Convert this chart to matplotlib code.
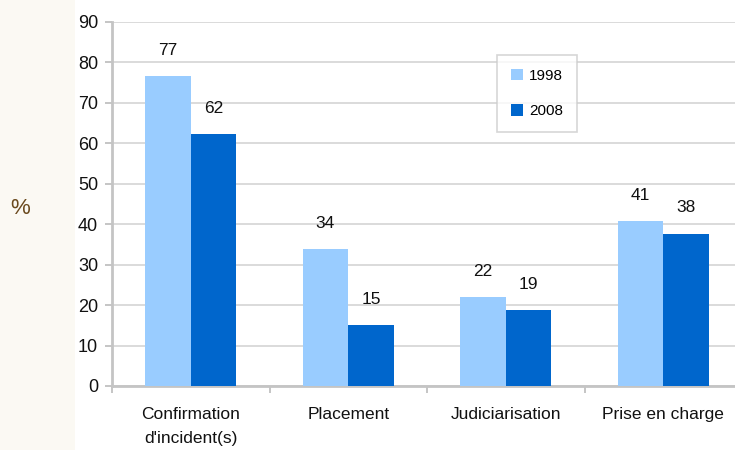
import matplotlib
matplotlib.use("Agg")
import matplotlib.pyplot as plt
import numpy as np
from matplotlib.patches import Rectangle

categories = ["Confirmation\nd'incident(s)", "Placement", "Judiciarisation", "Prise en charge"]
series_names = ["1998", "2008"]
values_1998 = [76.7, 33.8, 21.9, 40.7]
values_2008 = [62.4, 15.0, 18.9, 37.7]
labels_1998 = ["77", "34", "22", "41"]
labels_2008 = ["62", "15", "19", "38"]
yticks = [0, 10, 20, 30, 40, 50, 60, 70, 80, 90]

plt.rcParams['font.family'] = ['Liberation Sans', 'DejaVu Sans']

W, H = 735, 450
fig = plt.figure(figsize=(W / 100, H / 100), dpi=100)
fig.patch.set_facecolor('white')
# beige left strip
fig.patches.append(Rectangle((0, 0), 75 / W, 1, transform=fig.transFigure,
                             facecolor='#FBF9F3', edgecolor='none', zorder=0))

left, right = 112, 742
top, bottom = 22, 386
ax = fig.add_axes([left / W, 1 - bottom / H, (right - left) / W, (bottom - top) / H])
ax.set_facecolor('white')

x = np.arange(len(categories))
bw = 0.29
c1, c2 = '#99CCFF', '#0066CC'
b1 = ax.bar(x - bw / 2, values_1998, bw, color=c1, zorder=3, label=series_names[0])
b2 = ax.bar(x + bw / 2, values_2008, bw, color=c2, zorder=3, label=series_names[1])

for xi, v, lab in zip(x - bw / 2, values_1998, labels_1998):
    ax.annotate(lab, (xi, v), xytext=(0, 13), textcoords='offset points',
                ha='center', va='bottom', fontsize=12.5, color='#111111')
for xi, v, lab in zip(x + bw / 2, values_2008, labels_2008):
    ax.annotate(lab, (xi, v), xytext=(0, 13), textcoords='offset points',
                ha='center', va='bottom', fontsize=12.5, color='#111111')

ax.set_xlim(-0.5, len(categories) - 0.5)
ax.set_ylim(0, 90)
ax.set_yticks(yticks)
ax.set_yticklabels([str(t) for t in yticks], fontsize=13, color='#111111')
ax.yaxis.grid(True, color='#D4D4D4', linewidth=1.2, zorder=0)
ax.set_axisbelow(True)

ax.set_xticks(x)
ax.set_xticklabels(categories, fontsize=12.5, color='#111111', linespacing=1.75)
ax.tick_params(axis='x', length=0, pad=15)
ax.set_xticks(np.arange(len(categories) + 1) - 0.5, minor=True)
ax.tick_params(axis='x', which='minor', length=5, color='#BBBBBB', width=1.2)
ax.tick_params(axis='y', length=5, color='#BBBBBB', width=1.2, pad=5)

for s in ['top', 'right']:
    ax.spines[s].set_visible(False)
ax.spines['left'].set_color('#C4C4C4')
ax.spines['left'].set_linewidth(2)
ax.spines['bottom'].set_color('#C4C4C4')
ax.spines['bottom'].set_linewidth(2)

leg = fig.legend(handles=[b1, b2], labels=series_names, loc='upper left',
                 bbox_to_anchor=(497 / W, 1 - 55 / H), frameon=True, fancybox=False,
                 fontsize=11, handlelength=0.8, handleheight=0.8, labelspacing=1.4,
                 borderpad=0.9, handletextpad=0.4, borderaxespad=0)
leg.get_frame().set_edgecolor('#CCCCCC')
leg.get_frame().set_linewidth(1.2)

fig.text(20 / W, 1 - 208 / H, '%', fontsize=16, color='#6B4A1E', ha='center', va='center')

fig.savefig('out.png', dpi=100, facecolor=fig.get_facecolor())
